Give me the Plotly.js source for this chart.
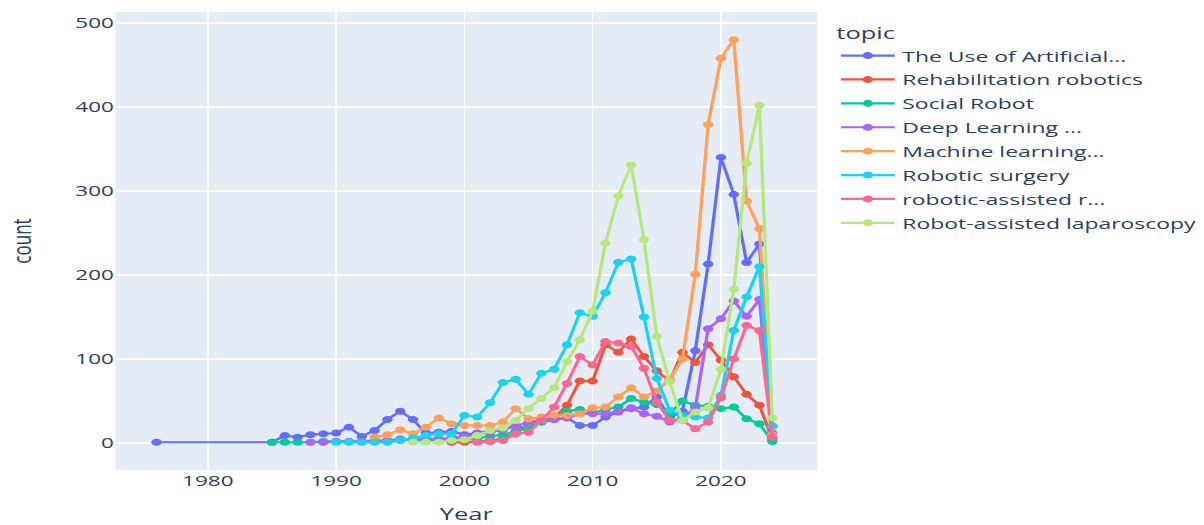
<!DOCTYPE html>
<html>
<head>
<meta charset="utf-8">
<script src="https://cdn.plot.ly/plotly-3.0.1.min.js"></script>
<style>
html,body{margin:0;padding:0;background:#fff;overflow:hidden;width:1204px;height:525px;}
#chart{width:803px;height:525px;transform:scale(1.4994,1);transform-origin:0 0;}
</style>
</head>
<body>
<div id="chart"></div>
<script>
const topics = ["The Use of Artificial...", "Rehabilitation robotics", "Social Robot", "Deep Learning ...", "Machine learning...", "Robotic surgery", "robotic-assisted r...", "Robot-assisted laparoscopy"];
const colors = ["#636efa", "#EF553B", "#00cc96", "#ab63fa", "#FFA15A", "#19d3f3", "#FF6692", "#B6E880"];

const yearsAI = [1976,1985,1986,1987,1988,1989,1990,1991,1992,1993,1994,1995,1996,1997,1998,1999,2000,2001,2002,2003,2004,2005,2006,2007,2008,2009,2010,2011,2012,2013,2014,2015,2016,2017,2018,2019,2020,2021,2022,2023,2024];
const countAI = [1,1,9,7,10,11,12,19,8,15,28,38,28,12,13,14,10,12,15,17,20,18,25,28,30,21,21,31,37,41,43,55,30,38,110,213,340,296,215,237,20];

const yearsRehab = [1999,2000,2001,2002,2003,2004,2005,2006,2007,2008,2009,2010,2011,2012,2013,2014,2015,2016,2017,2018,2019,2020,2021,2022,2023,2024];
const countRehab = [1,1,2,3,5,12,22,28,30,45,74,74,117,108,124,103,86,74,108,96,117,99,79,58,45,5];

const yearsSocial = [1985,1986,1987,1988,1989,1990,1991,1992,1993,1994,1995,1996,1997,1998,1999,2000,2001,2002,2003,2004,2005,2006,2007,2008,2009,2010,2011,2012,2013,2014,2015,2016,2017,2018,2019,2020,2021,2022,2023,2024];
const countSocial = [1,1,1,1,2,2,2,2,2,3,5,3,3,4,4,5,6,8,10,14,18,25,32,38,40,36,40,43,53,49,46,35,50,45,44,41,43,29,23,2];

const yearsDL = [1988,1989,1990,1991,1992,1993,1994,1995,1996,1997,1998,1999,2000,2001,2002,2003,2004,2005,2006,2007,2008,2009,2010,2011,2012,2013,2014,2015,2016,2017,2018,2019,2020,2021,2022,2023,2024];
const countDL = [1,1,2,2,2,3,3,4,4,5,5,6,8,10,13,16,20,25,28,28,30,35,35,35,38,42,35,32,25,30,42,136,148,169,151,171,12];

const yearsML = [1993,1994,1995,1996,1997,1998,1999,2000,2001,2002,2003,2004,2005,2006,2007,2008,2009,2010,2011,2012,2013,2014,2015,2016,2017,2018,2019,2020,2021,2022,2023,2024];
const countML = [7,10,16,11,19,30,23,21,21,21,25,41,29,31,33,33,35,42,43,55,66,55,62,76,100,201,379,458,480,288,255,10];

const yearsSurg = [1990,1991,1992,1993,1994,1995,1996,1997,1998,1999,2000,2001,2002,2003,2004,2005,2006,2007,2008,2009,2010,2011,2012,2013,2014,2015,2016,2017,2018,2019,2020,2021,2022,2023,2024];
const countSurg = [1,1,1,1,1,3,6,9,11,11,33,31,48,72,76,58,83,88,117,155,151,179,215,219,150,77,39,33,31,30,57,134,174,210,20];

const yearsRAR = [2001,2002,2003,2004,2005,2006,2007,2008,2009,2010,2011,2012,2013,2014,2015,2016,2017,2018,2019,2020,2021,2022,2023,2024];
const countRAR = [1,2,3,11,13,27,43,71,103,93,121,119,115,89,49,27,27,17,25,54,100,140,134,7];

const yearsLap = [1996,1997,1998,1999,2000,2001,2002,2003,2004,2005,2006,2007,2008,2009,2010,2011,2012,2013,2014,2015,2016,2017,2018,2019,2020,2021,2022,2023,2024];
const countLap = [1,1,1,3,4,9,15,18,27,41,53,66,97,123,157,238,294,331,242,127,73,27,37,42,88,183,333,402,30];

const xs = [yearsAI, yearsRehab, yearsSocial, yearsDL, yearsML, yearsSurg, yearsRAR, yearsLap];
const ys = [countAI, countRehab, countSocial, countDL, countML, countSurg, countRAR, countLap];

const traces = topics.map((t, i) => ({
  type: "scatter",
  mode: "lines+markers",
  name: t,
  legendgroup: "g" + i,
  x: xs[i],
  y: ys[i],
  line: {color: colors[i], width: 2.2},
  marker: {color: colors[i], size: 7}
}));

const fontFam = '"Open Sans", verdana, arial, sans-serif';
const layout = {
  width: 803,
  height: 525,
  margin: {l: 77, r: 257.5, t: 12, b: 55, autoexpand: false},
  paper_bgcolor: "#ffffff",
  plot_bgcolor: "#E5ECF6",
  font: {family: fontFam, size: 15, color: "#2a3f5f"},
  showlegend: true,
  legend: {
    title: {text: "topic", font: {size: 17}},
    font: {size: 15.3},
    x: 1.023, y: 0.989, xanchor: "left", yanchor: "top",
    itemwidth: 36,
    tracegroupgap: 1
  },
  xaxis: {
    title: {text: "Year", font: {size: 17}, standoff: 21},
    range: [1972.8, 2027.5],
    tickvals: [1980, 1990, 2000, 2010, 2020],
    gridcolor: "#ffffff", gridwidth: 1,
    zeroline: false,
    ticks: "",
    tickfont: {size: 15}
  },
  yaxis: {
    title: {text: "count", font: {size: 17}, standoff: 24},
    range: [-32, 513],
    tickvals: [0, 100, 200, 300, 400, 500],
    gridcolor: "#ffffff", gridwidth: 1.5,
    zeroline: true, zerolinecolor: "#ffffff", zerolinewidth: 2.5,
    ticks: "",
    tickfont: {size: 15}
  }
};

Plotly.newPlot("chart", traces, layout, {displayModeBar: false, staticPlot: true});
</script>
</body>
</html>
